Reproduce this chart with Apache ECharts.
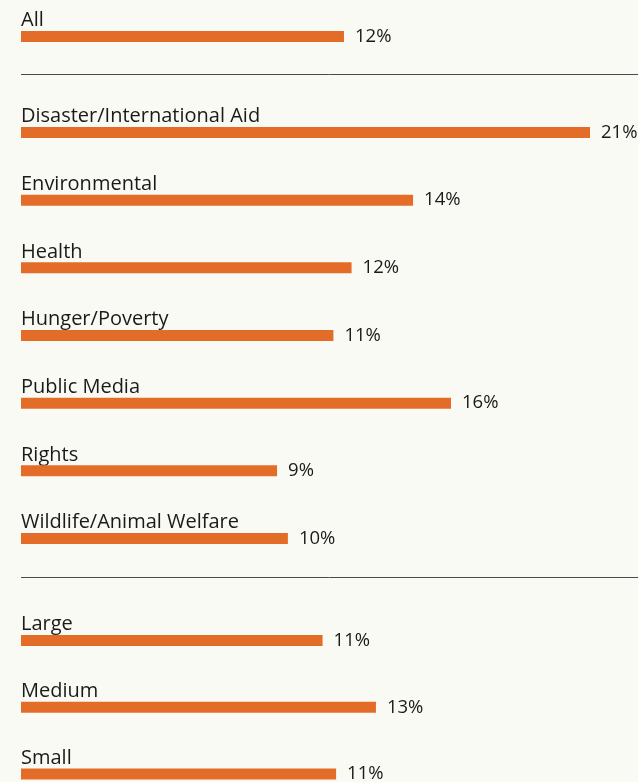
<!DOCTYPE html>
<html>
<head>
<meta charset="utf-8">
<script src="https://cdn.jsdelivr.net/npm/echarts@6/dist/echarts.min.js"></script>
<style>
html,body{margin:0;padding:0;background:#fafaf5;}
#chart{width:638px;height:782px;}
</style>
</head>
<body>
<div id="chart"></div>
<script>
// Data
var allCats = ["All"];
var allValues = [11.92];
var allLabels = ["12%"];

var causeCats = ["Disaster/International Aid", "Environmental", "Health", "Hunger/Poverty", "Public Media", "Rights", "Wildlife/Animal Welfare"];
var causeValues = [21.0, 14.47, 12.2, 11.53, 15.87, 9.45, 9.85];
var causeLabels = ["21%", "14%", "12%", "11%", "16%", "9%", "10%"];

var sizeCats = ["Large", "Medium", "Small"];
var sizeValues = [11.13, 13.1, 11.63];
var sizeLabels = ["11%", "13%", "11%"];

var BAR = '#e36c28';
var TXT = '#1a1a1a';
var FONT = 'Open Sans';
var FS = 20;
var VFS = 18.5;

var groups = [
  {cats: allCats, values: allValues, labels: allLabels, top: 31, height: 11, gap: true},
  {cats: causeCats, values: causeValues, labels: causeLabels, top: 132.5, height: 406, gap: false},
  {cats: sizeCats, values: sizeValues, labels: sizeLabels, top: 640.5, height: 133.5, gap: false}
];

var grids = [], xAxes = [], yAxes = [], series = [];
groups.forEach(function (g, i) {
  grids.push({left: 21, width: 569, top: g.top, height: g.height, containLabel: false});
  xAxes.push({type: 'value', gridIndex: i, min: 0, max: 21, show: false});
  yAxes.push({
    type: 'category', gridIndex: i, data: g.cats, inverse: true, boundaryGap: g.gap,
    axisLine: {show: false}, axisTick: {show: false}, splitLine: {show: false},
    axisLabel: {
      inside: true, margin: 0, align: 'left', verticalAlign: 'bottom',
      padding: [0, 0, 6, 0], color: TXT, fontFamily: FONT, fontSize: FS
    }
  });
  series.push({
    type: 'bar', xAxisIndex: i, yAxisIndex: i, data: g.values, barWidth: 11,
    itemStyle: {color: BAR},
    silent: true,
    label: {
      show: true, position: 'right', distance: 11, color: TXT,
      fontFamily: FONT, fontSize: VFS,
      formatter: function (p) { return g.labels[p.dataIndex]; }
    }
  });
});

var chart = echarts.init(document.getElementById('chart'));
chart.setOption({
  backgroundColor: '#fafaf5',
  animation: false,
  grid: grids,
  xAxis: xAxes,
  yAxis: yAxes,
  series: series,
  graphic: [
    {type: 'line', shape: {x1: 21, y1: 74.5, x2: 638, y2: 74.5}, style: {stroke: '#4a4a4a', lineWidth: 1}},
    {type: 'line', shape: {x1: 21, y1: 577.5, x2: 638, y2: 577.5}, style: {stroke: '#4a4a4a', lineWidth: 1}}
  ]
});
</script>
</body>
</html>
